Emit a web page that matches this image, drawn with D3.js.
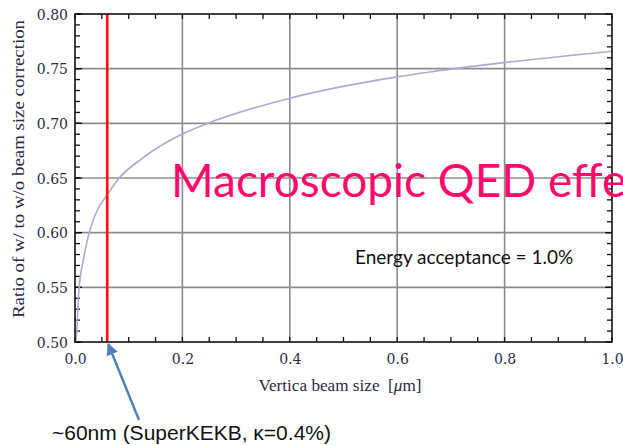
<!DOCTYPE html>
<html><head><meta charset="utf-8">
<script src="https://cdn.jsdelivr.net/npm/d3@7"></script>
<style>html,body{margin:0;padding:0;background:#fff;overflow:hidden}</style>
</head><body>
<svg id="c" width="623" height="445"></svg>
<script>
const beamSize = [0.0015, 0.003, 0.005, 0.0074, 0.0155, 0.0248, 0.0372, 0.062, 0.0807, 0.124, 0.1987, 0.261, 0.4, 0.6, 0.661, 0.8, 1.0];
const ratio    = [0.500, 0.507, 0.527, 0.548, 0.575, 0.597, 0.616, 0.636, 0.649, 0.6675, 0.690, 0.7025, 0.723, 0.7425, 0.747, 0.7556, 0.766];
const xTicks = [0.0, 0.2, 0.4, 0.6, 0.8, 1.0];
const yTicks = [0.50, 0.55, 0.60, 0.65, 0.70, 0.75, 0.80];
const markerX = [0.06];
const title = "Macroscopic QED effect";
const note = "Energy acceptance = 1.0%";
const caption = "~60nm (SuperKEKB, \u03BA=0.4%)";

const svg = d3.select("#c");
const L = 75, R = 612, T = 14, B = 342;
const x = d3.scaleLinear().domain([0, 1]).range([L, R]);
const y = d3.scaleLinear().domain([0.5, 0.8]).range([B, T]);

// grid
const g = svg.append("g");
g.selectAll(".gx").data(xTicks.slice(1, -1)).join("line")
  .attr("x1", d => x(d)).attr("x2", d => x(d)).attr("y1", T).attr("y2", B)
  .attr("stroke", "#8c8c8c").attr("stroke-width", 1.6);
g.selectAll(".gy").data(yTicks.slice(1, -1)).join("line")
  .attr("x1", L).attr("x2", R).attr("y1", d => y(d)).attr("y2", d => y(d))
  .attr("stroke", "#8c8c8c").attr("stroke-width", 1.6);

// minor ticks on all four sides
const xMinor = d3.range(0, 1.0001, 0.05);
const yMinor = d3.range(0.5, 0.8001, 0.01);
const tk = svg.append("g").attr("stroke", "#111").attr("stroke-width", 1.3);
xMinor.forEach(v => {
  tk.append("line").attr("x1", x(v)).attr("x2", x(v)).attr("y1", B).attr("y2", B - 5);
  tk.append("line").attr("x1", x(v)).attr("x2", x(v)).attr("y1", T).attr("y2", T + 5);
});
yMinor.forEach(v => {
  tk.append("line").attr("x1", L).attr("x2", L + 5).attr("y1", y(v)).attr("y2", y(v));
  tk.append("line").attr("x1", R).attr("x2", R - 5).attr("y1", y(v)).attr("y2", y(v));
});
yTicks.forEach(v => {
  tk.append("line").attr("x1", L).attr("x2", L + 7).attr("y1", y(v)).attr("y2", y(v));
  tk.append("line").attr("x1", R).attr("x2", R - 7).attr("y1", y(v)).attr("y2", y(v));
});

// curve
const line = d3.line().x((d, i) => x(beamSize[i])).y(d => y(d)).curve(d3.curveMonotoneX);
svg.append("path").datum(ratio).attr("d", line)
  .attr("fill", "none").attr("stroke", "#aaaad8").attr("stroke-width", 1.6);

// marker line
svg.selectAll(".mk").data(markerX).join("line")
  .attr("x1", d => x(d)).attr("x2", d => x(d)).attr("y1", T).attr("y2", B)
  .attr("stroke", "#ff1010").attr("stroke-width", 2.6);

// frame
svg.append("rect").attr("x", L).attr("y", T).attr("width", R - L).attr("height", B - T)
  .attr("fill", "none").attr("stroke", "#111").attr("stroke-width", 1.6);

// axes labels
const serif = "'Liberation Serif', 'DejaVu Serif', serif";
const tickFont = "'DejaVu Serif', serif";
const xAxis = d3.axisBottom(x).tickValues(xTicks).tickFormat(d3.format(".1f")).tickSize(0).tickPadding(0);
const xa = svg.append("g").attr("transform", `translate(0,${B})`).call(xAxis);
xa.select(".domain").remove();
xa.selectAll("text").attr("dy", null).attr("y", 22).attr("font-family", tickFont).attr("font-size", 14).attr("fill", "#2a2a48");

const yAxis = d3.axisLeft(y).tickValues(yTicks).tickFormat(d3.format(".2f")).tickSize(0).tickPadding(0);
const ya = svg.append("g").attr("transform", `translate(${L - 7},0)`).call(yAxis);
ya.select(".domain").remove();
ya.selectAll("text").attr("dy", "0.36em").attr("x", 0).attr("font-family", tickFont).attr("font-size", 14).attr("fill", "#2a2a48");

svg.append("text").attr("x", 340).attr("y", 391).attr("text-anchor", "middle")
  .attr("font-family", serif).attr("font-size", 17).attr("fill", "#2a2a48")
  .attr("textLength", 163).attr("lengthAdjust", "spacingAndGlyphs")
  .html("Vertica beam size &#160;[<tspan font-style='italic'>\u03BC</tspan>m]");
svg.append("text").attr("transform", "translate(24,169) rotate(-90)").attr("text-anchor", "middle")
  .attr("font-family", serif).attr("font-size", 16).attr("fill", "#2a2a48")
  .attr("textLength", 298).attr("lengthAdjust", "spacingAndGlyphs")
  .text("Ratio of w/ to w/o beam size correction");

// annotations
svg.append("text").attr("x", 171).attr("y", 197).attr("font-family", "Lato, 'Open Sans', sans-serif")
  .attr("font-size", 46).attr("fill", "#ff0a6c").text(title);
svg.append("text").attr("x", 355).attr("y", 264).attr("font-family", "Lato, 'Open Sans', sans-serif")
  .attr("font-size", 19).attr("fill", "#111").text(note);
svg.append("text").attr("x", 52).attr("y", 440).attr("font-family", "'Liberation Sans', Arial, sans-serif")
  .attr("font-size", 21).attr("fill", "#111").text(caption);

// arrow
svg.append("defs").append("marker").attr("id", "ah").attr("viewBox", "0 0 10 10")
  .attr("refX", 9).attr("refY", 5).attr("markerWidth", 5).attr("markerHeight", 5)
  .attr("orient", "auto").append("path").attr("d", "M0,0L10,5L0,10z").attr("fill", "#4f7fbb");
svg.append("line").attr("x1", 139).attr("y1", 420).attr("x2", x(markerX[0]) + 1).attr("y2", B + 2)
  .attr("stroke", "#4f7fbb").attr("stroke-width", 2.4).attr("marker-end", "url(#ah)");
</script>
</body></html>
